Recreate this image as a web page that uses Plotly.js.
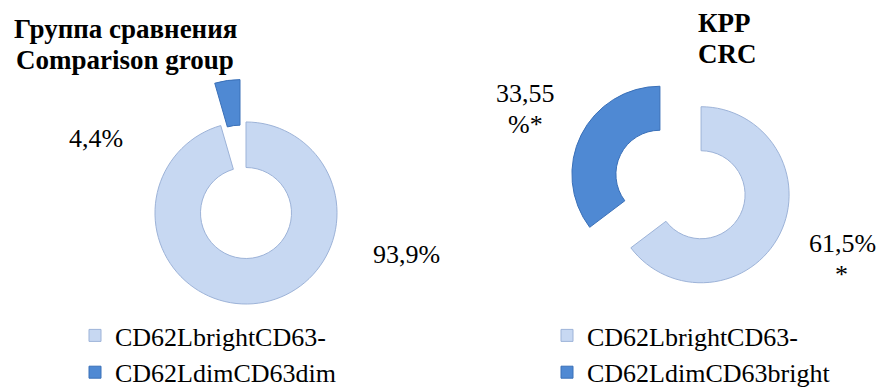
<!DOCTYPE html>
<html>
<head>
<meta charset="utf-8">
<script src="https://cdn.plot.ly/plotly-3.0.1.min.js"></script>
<style>
  html, body { margin: 0; padding: 0; background: #ffffff; overflow: hidden; }
  #chart { width: 879px; height: 400px; }
</style>
</head>
<body>
<div id="chart"></div>
<script>
// Subset shares, %
const leftLabels = ['CD62LbrightCD63-', 'CD62LdimCD63dim'];
const leftValues = [93.9, 4.4];
const rightLabels = ['CD62LbrightCD63-', 'CD62LdimCD63bright'];
const rightValues = [61.5, 33.55];

const leftTitle = ['Группа сравнения', 'Comparison group'];
const rightTitle = ['КРР', 'CRC'];

const fmt = v => String(v).replace('.', ',');

const SERIF = '"Liberation Serif", "Times New Roman", serif';
const LIGHT = '#c7d8f2';
const DARK = '#4f89d3';
const EDGES = ['#9db3d8', '#3a70b8'];

// Canvas is a little taller than the window so the legend can sit low
const W = 879, H = 400;
const domX = (x0, x1) => [x0 / W, x1 / W];
const domY = (y0, y1) => [1 - y1 / H, 1 - y0 / H];

const leftPie = {
  type: 'pie',
  labels: leftLabels,
  values: leftValues,
  sort: false,
  direction: 'clockwise',
  rotation: 0,
  hole: 0.5,
  pull: [0, 0.47],
  textinfo: 'none',
  marker: { colors: [LIGHT, DARK], line: { color: EDGES, width: 1 } },
  domain: { x: domX(112.2, 379.8), y: domY(79.2, 346.8) },
  legend: 'legend',
  legendgroup: 'left'
};

const rightPie = {
  type: 'pie',
  labels: rightLabels,
  values: rightValues,
  sort: false,
  direction: 'clockwise',
  rotation: 0,
  hole: 0.5,
  pull: [0.261, 0.261],
  textinfo: 'none',
  marker: { colors: [LIGHT, DARK], line: { color: EDGES, width: 1 } },
  domain: { x: domX(569.5, 791.5), y: domY(73.5, 295.5) },
  legend: 'legend2',
  legendgroup: 'right'
};

function note(text, px, py, opts) {
  return Object.assign({
    text: text,
    xref: 'paper', yref: 'paper',
    x: px / W, y: 1 - py / H,
    xanchor: 'center', yanchor: 'middle',
    showarrow: false,
    font: { family: SERIF, size: 26, color: '#000000' }
  }, opts || {});
}

const boldFont = { family: SERIF, size: 27, color: '#000000' };

const annotations = [
  note('<b>' + leftTitle[0] + '</b>', 125, 29, { font: boldFont }),
  note('<b>' + leftTitle[1] + '</b>', 125, 60, { font: boldFont }),
  note('<b>' + rightTitle[0] + '</b>', 696, 23, { font: boldFont, xanchor: 'left' }),
  note('<b>' + rightTitle[1] + '</b>', 696, 54, { font: boldFont, xanchor: 'left' }),
  note(fmt(leftValues[0]) + '%', 406, 254),
  note(fmt(leftValues[1]) + '%', 96, 139),
  note(fmt(rightValues[0]) + '%', 842, 243),
  note('*', 841, 274),
  note(fmt(rightValues[1]), 525.5, 93),
  note('%*', 525.5, 124)
];

const legendStyle = {
  orientation: 'v',
  xanchor: 'left', yanchor: 'top',
  bgcolor: 'rgba(0,0,0,0)',
  borderwidth: 0,
  font: { family: SERIF, size: 26, color: '#000000' },
  itemwidth: 30,
  tracegroupgap: 0
};

const layout = {
  width: W, height: H,
  margin: { l: 0, r: 0, t: 0, b: 0 },
  paper_bgcolor: '#ffffff',
  showlegend: true,
  legend: Object.assign({}, legendStyle, { x: 75 / W, y: 1 - 312 / H }),
  legend2: Object.assign({}, legendStyle, { x: 547 / W, y: 1 - 312 / H }),
  annotations: annotations
};

Plotly.newPlot('chart', [leftPie, rightPie], layout, { displayModeBar: false, staticPlot: true });
</script>
</body>
</html>
